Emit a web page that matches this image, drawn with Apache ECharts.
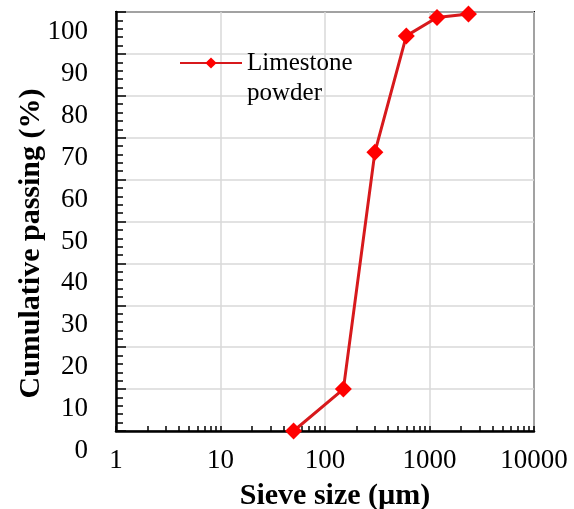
<!DOCTYPE html>
<html>
<head>
<meta charset="utf-8">
<script src="https://cdn.jsdelivr.net/npm/echarts@6/dist/echarts.min.js"></script>
<style>
  html, body { margin: 0; padding: 0; background: #fff; }
  #chart { width: 574px; height: 509px; }
</style>
</head>
<body>
<div id="chart"></div>
<script>
// sieve sizes (µm) and cumulative passing (%)
const sieveSizes = [50, 150, 300, 600, 1180, 2360];
const passing = [0, 10, 66.5, 94.3, 98.7, 99.5];
const seriesName = 'Limestone powder';

// ticks of the log axis: 1..10 of each decade
const xTicks = [];
[1, 10, 100, 1000].forEach(d => {
    for (let k = 1; k <= 10; k++) xTicks.push(d * k);
});

const chart = echarts.init(document.getElementById('chart'));
const serif = '"Liberation Serif", "Times New Roman", serif';

chart.setOption({
    animation: false,
    backgroundColor: '#fff',
    textStyle: { fontFamily: serif, color: '#000' },
    grid: {
        left: 116, right: 40, top: 12, bottom: 78,
        outerBoundsMode: 'none',
        show: true, borderColor: '#000', borderWidth: 2
    },
    legend: {
        left: 179, top: 18, padding: 0,
        itemWidth: 62, itemHeight: 14,
        data: [seriesName],
        // empty first line keeps the marker level with "Limestone"
        formatter: () => ' \nLimestone\npowder',
        textStyle: { fontFamily: serif, fontSize: 25, color: '#000', lineHeight: 30 }
    },
    xAxis: [{
        type: 'log', logBase: 10, min: 1, max: 10000,
        name: 'Sieve size (µm)', nameLocation: 'middle', nameGap: 50,
        nameMoveOverlap: false,
        nameTextStyle: { fontFamily: serif, fontWeight: 'bold', fontSize: 30, color: '#000', padding: [0, 0, 0, 20] },
        axisLine: { lineStyle: { color: '#000', width: 2.5 } },
        axisTick: { show: true, inside: true, length: 5, lineStyle: { color: '#000', width: 1.5 } },
        axisLabel: { fontFamily: serif, fontSize: 27, color: '#000', margin: 16, formatter: v => String(v) },
        splitLine: { show: true, lineStyle: { color: '#d9d9d9', width: 1.5 } }
    }, {
        // second axis only for the small log ticks
        type: 'log', logBase: 10, min: 1, max: 10000, position: 'bottom',
        axisLine: { show: false },
        axisLabel: { show: false },
        splitLine: { show: false },
        axisTick: { show: true, inside: true, length: 5, customValues: xTicks, lineStyle: { color: '#000', width: 1.5 } }
    }],
    yAxis: {
        type: 'value', min: 0, max: 100, interval: 10,
        name: 'Cumulative passing (%)', nameLocation: 'middle', nameGap: 70,
        nameMoveOverlap: false,
        nameTextStyle: { fontFamily: serif, fontWeight: 'bold', fontSize: 30, color: '#000', padding: [0, 44, 0, 0] },
        axisLine: { show: true, lineStyle: { color: '#000', width: 2.5 } },
        axisTick: { show: true, inside: true, length: 10, lineStyle: { color: '#000', width: 1.5 } },
        minorTick: { show: true, splitNumber: 5, length: 7, lineStyle: { color: '#000', width: 1.5 } },
        axisLabel: { fontFamily: serif, fontSize: 27, color: '#000', margin: 28, verticalAlign: 'top', lineHeight: 40 },
        splitLine: { show: true, lineStyle: { color: '#d9d9d9', width: 1.5 } }
    },
    series: [{
        name: seriesName,
        type: 'line',
        xAxisIndex: 0,
        data: sieveSizes.map((s, i) => [s, passing[i]]),
        symbol: 'diamond',
        symbolSize: 17,
        itemStyle: { color: '#ff0000' },
        lineStyle: { color: '#d7191c', width: 3 }
    }]
});
</script>
</body>
</html>
